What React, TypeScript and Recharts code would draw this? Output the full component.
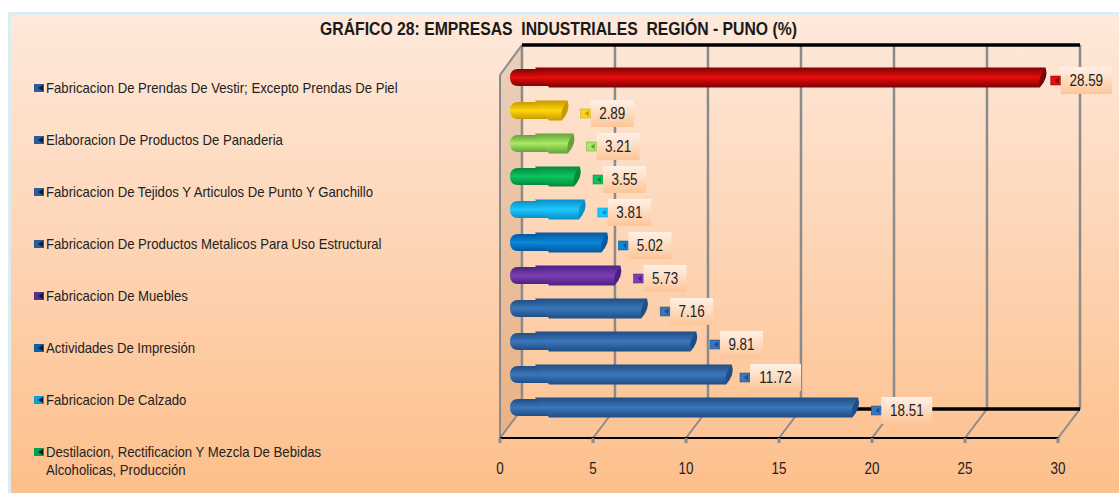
import React from 'react'
import { BarChart, Bar, XAxis, YAxis, ReferenceLine, ReferenceArea, LabelList, Legend, Cell } from 'recharts'

const FONT = '"Liberation Sans", Arial, sans-serif'
const NARROW = 0.84

const rowIds = ['r1', 'r2', 'r3', 'r4', 'r5', 'r6', 'r7', 'r8', 'r9', 'r10', 'r11']
const values = [28.59, 2.89, 3.21, 3.55, 3.81, 5.02, 5.73, 7.16, 9.81, 11.72, 18.51]
const xTicks = [0, 5, 10, 15, 20, 25, 30]
const legendLabels = [
  'Fabricacion De Prendas De Vestir; Excepto Prendas De Piel',
  'Elaboracion De Productos De Panaderia',
  'Fabricacion De Tejidos Y Articulos De Punto Y Ganchillo',
  'Fabricacion De Productos Metalicos Para Uso Estructural',
  'Fabricacion De Muebles',
  'Actividades De Impresión',
  'Fabricacion De Calzado',
  'Destilacion, Rectificacion Y Mezcla De Bebidas\nAlcoholicas, Producción',
]

// bar colours: edge, centre
const barColors = [
  ['#7c0303', '#e80c0c'],
  ['#c79a00', '#ffd60a'],
  ['#64a23c', '#a8ea62'],
  ['#04893f', '#0cc45e'],
  ['#0a8fc8', '#1cc8fa'],
  ['#07589e', '#0a86da'],
  ['#4a2382', '#7c3eb2'],
  ['#1f4e85', '#3b76b9'],
  ['#1f4e85', '#3b76b9'],
  ['#1f4e85', '#3b76b9'],
  ['#1f4e85', '#3b76b9'],
]
const legendColors = ['#2a5d9a', '#2a5d9a', '#2a5d9a', '#2a5d9a', '#5b2d8e', '#0d5fa8', '#0c9fd8', '#00a04c']
const labelGaps = [9, 17, 17, 17, 17, 15, 17, 17, 17.5, 12, 17]

// 3d frame: depth in axis units, heights above the front floor
const DEPTH = 1.18
const BACK_FLOOR = 29
const FRONT_TOP = 363
const TOP = 393
const GRID = '#8b8b8b'
const FRAME_Z = 50

const data = rowIds.map((id, i) => ({ id, value: values[i] }))

function CylinderBar(props: any) {
  const { x, y, width, height, index } = props
  const [edge] = barColors[index]
  const fill = `url(#bar${index})`
  const r = x + width
  const b = y + height
  return (
    <g>
      <path
        d={`M${x + 37} ${y + 1.5} L${x + 3} ${y + 1.5} Q${x - 5} ${y + 1.5} ${x - 5} ${y + height / 2} Q${x - 5} ${b - 1.5} ${x + 3} ${b - 1.5} L${x + 37} ${b - 1.5} Z`}
        fill={fill}
      />
      <path d={`M${x + 20} ${y} L${r - 1} ${y} L${r - 7} ${b} L${x + 34} ${b} Z`} fill={fill} />
      <path
        d={`M${r - 1} ${y + 0.5} Q${r + 2} ${y + height * 0.5} ${r - 7} ${b} Q${r - 9} ${y + height * 0.4} ${r - 1} ${y + 0.5} Z`}
        fill={edge}
      />
    </g>
  )
}

function ValueLabel(props: any) {
  const { x, y, width, height, value, index } = props
  const [edge, centre] = barColors[index]
  const mx = x + width + labelGaps[index]
  const cy = y + height / 2 + 3
  const text = Number(value).toFixed(2)
  const boxW = text.length > 4 ? 51 : 43
  return (
    <g>
      <rect x={mx - 5} y={cy - 4.5} width={10} height={9} fill={centre} stroke={edge} strokeWidth={0.5} />
      <path d={`M${mx + 3} ${cy - 3} L${mx - 1} ${cy} L${mx + 3} ${cy + 3} Z`} fill={edge} />
      <rect x={mx + 5} y={cy - 13.5} width={boxW} height={27} fill="url(#labelBox)" />
      <text
        transform={`translate(${mx + 5 + boxW / 2} ${cy + 5.5}) scale(${NARROW} 1)`}
        textAnchor="middle"
        fontFamily={FONT}
        fontSize={16}
        fill="#222"
      >
        {text}
      </text>
    </g>
  )
}

function AxisTick(props: any) {
  const { x, y, payload } = props
  return (
    <text
      transform={`translate(${x} ${y + 14}) scale(${NARROW} 1)`}
      textAnchor="middle"
      fontFamily={FONT}
      fontSize={16}
      fill="#222"
    >
      {payload.value}
    </text>
  )
}

function LeftWall(props: any) {
  const { x, y, width, height } = props
  const slant = height * (TOP - FRONT_TOP) / TOP
  const rise = height * BACK_FLOOR / TOP
  return (
    <path
      d={`M${x} ${y + slant} L${x + width} ${y} L${x + width} ${y + height - rise} L${x} ${y + height} Z`}
      fill="#8a5a30"
      fillOpacity={0.16}
    />
  )
}

function SideLegend() {
  return (
    <div style={{ fontFamily: FONT, fontSize: 14.5, lineHeight: '18px', color: '#222' }}>
      {legendLabels.map((label, i) => (
        <div key={label} style={{ position: 'relative', height: 52, paddingLeft: 12 }}>
          <svg width={10} height={8} style={{ position: 'absolute', left: 0, top: 5 }}>
            <rect width={10} height={8} fill={legendColors[i]} />
            <path d="M9 1 L4 4 L9 7 Z" fill="#0b1a30" />
          </svg>
          <div style={{ whiteSpace: 'pre', transform: 'scaleX(0.907)', transformOrigin: 'left top' }}>{label}</div>
        </div>
      ))}
    </div>
  )
}

export default function App() {
  return (
    <div style={{ position: 'absolute', left: 0, top: 0, width: 1119, height: 493, background: '#fff', overflow: 'hidden' }}>
      <div
        style={{
          position: 'absolute',
          left: 8,
          top: 12,
          width: 1111,
          height: 481,
          boxSizing: 'border-box',
          borderLeft: '3px solid #dcecf1',
          borderTop: '3px solid #dcecf1',
          background: 'linear-gradient(#fee9db, #fdbf8b)',
        }}
      />
      <div
        style={{
          position: 'absolute',
          left: 0,
          width: 1117,
          top: 19,
          textAlign: 'center',
          fontFamily: FONT,
          fontWeight: 700,
          fontSize: 18,
          color: '#1a1a1a',
          whiteSpace: 'pre',
          transform: 'scaleX(0.875)',
        }}
      >
        {'GRÁFICO 28: EMPRESAS  INDUSTRIALES  REGIÓN - PUNO (%)'}
      </div>
      <div style={{ position: 'absolute', left: 0, top: 0 }}>
        <BarChart
          width={1119}
          height={493}
          data={data}
          layout="vertical"
          margin={{ top: 45, right: 39, bottom: 0, left: 500 }}
        >
          <defs>
            {barColors.map(([edge, centre], i) => (
              <linearGradient key={i} id={`bar${i}`} x1="0" y1="0" x2="0" y2="1">
                <stop offset="0%" stopColor={edge} />
                <stop offset="50%" stopColor={centre} />
                <stop offset="100%" stopColor={edge} />
              </linearGradient>
            ))}
            <linearGradient id="labelBox" x1="0" y1="0" x2="0" y2="1">
              <stop offset="0%" stopColor="#fff1e6" />
              <stop offset="100%" stopColor="#fdc597" />
            </linearGradient>
          </defs>
          <XAxis
            xAxisId="front"
            type="number"
            domain={[0, 31.18]}
            allowDataOverflow
            ticks={xTicks}
            interval={0}
            height={55}
            axisLine={false}
            tickSize={5}
            tickMargin={17}
            tickLine={{ stroke: GRID, strokeWidth: 3 }}
            tick={<AxisTick />}
          />
          <XAxis xAxisId="bars" type="number" domain={[-0.806, 30.376]} height={0} hide />
          <YAxis yAxisId="cat" type="category" dataKey="id" hide padding={{ top: 15.5, bottom: 14.5 }} />
          <YAxis yAxisId="plane" type="number" dataKey="value" domain={[0, TOP]} allowDataOverflow reversed hide />

          <ReferenceArea
            xAxisId="front"
            yAxisId="plane"
            x1={0}
            x2={DEPTH}
            y1={0}
            y2={TOP}
            zIndex={FRAME_Z}
            shape={<LeftWall />}
          />
          {xTicks.map((t) => (
            <ReferenceLine
              key={`back${t}`}
              xAxisId="front"
              yAxisId="plane"
              stroke={GRID}
              strokeWidth={2.5}
              zIndex={FRAME_Z}
              segment={[
                { x: t + DEPTH, y: BACK_FLOOR },
                { x: t + DEPTH, y: TOP },
              ]}
            />
          ))}
          {xTicks.map((t) => (
            <ReferenceLine
              key={`floor${t}`}
              xAxisId="front"
              yAxisId="plane"
              stroke={GRID}
              strokeWidth={2}
              zIndex={FRAME_Z}
              segment={[
                { x: t, y: 0 },
                { x: t + DEPTH, y: BACK_FLOOR },
              ]}
            />
          ))}
          <ReferenceLine
            xAxisId="front"
            yAxisId="plane"
            stroke={GRID}
            strokeWidth={2}
            zIndex={FRAME_Z}
            segment={[
              { x: 0, y: 0 },
              { x: 0, y: FRONT_TOP },
            ]}
          />
          <ReferenceLine
            xAxisId="front"
            yAxisId="plane"
            stroke={GRID}
            strokeWidth={2}
            zIndex={FRAME_Z}
            segment={[
              { x: 0, y: FRONT_TOP },
              { x: DEPTH, y: TOP },
            ]}
          />
          <ReferenceLine
            xAxisId="front"
            yAxisId="plane"
            stroke="#000"
            strokeWidth={3.5}
            zIndex={FRAME_Z}
            segment={[
              { x: DEPTH, y: TOP },
              { x: 30 + DEPTH, y: TOP },
            ]}
          />
          <ReferenceLine
            xAxisId="front"
            yAxisId="plane"
            stroke="#000"
            strokeWidth={3.5}
            zIndex={FRAME_Z}
            segment={[
              { x: DEPTH, y: BACK_FLOOR },
              { x: 30 + DEPTH, y: BACK_FLOOR },
            ]}
          />
          <ReferenceLine
            xAxisId="front"
            yAxisId="plane"
            stroke="#000"
            strokeWidth={2}
            zIndex={FRAME_Z}
            segment={[
              { x: 0, y: 0 },
              { x: 30, y: 0 },
            ]}
          />

          <Bar
            xAxisId="bars"
            yAxisId="cat"
            dataKey="value"
            barSize={20}
            shape={<CylinderBar />}
            isAnimationActive={false}
          >
            {data.map((d, i) => (
              <Cell key={d.id} fill={barColors[i][1]} />
            ))}
            <LabelList dataKey="value" content={<ValueLabel />} />
          </Bar>
          <Legend
            layout="vertical"
            align="center"
            verticalAlign="middle"
            content={<SideLegend />}
            wrapperStyle={{ left: 34, top: 79, width: 400, right: 'auto', bottom: 'auto' }}
          />
        </BarChart>
      </div>
    </div>
  )
}
